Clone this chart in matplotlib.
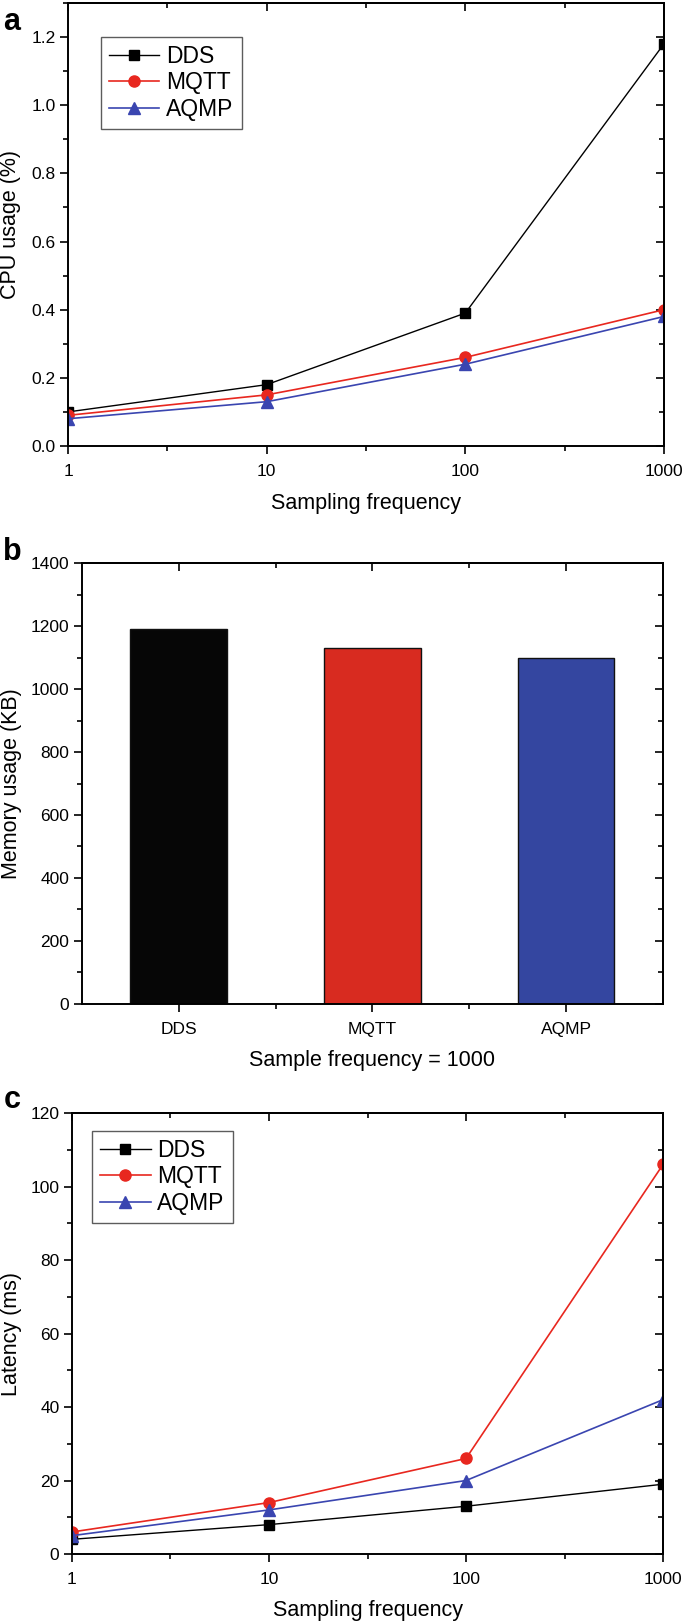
import matplotlib
matplotlib.use('Agg')
import matplotlib.pyplot as plt
from matplotlib.ticker import NullFormatter

plt.rcParams['font.family'] = ['Liberation Sans', 'DejaVu Sans']

# datos
freq = [1, 10, 100, 1000]
protocols = ['DDS', 'MQTT', 'AQMP']

cpu_dds = [0.10, 0.18, 0.39, 1.18]
cpu_mqtt = [0.09, 0.15, 0.26, 0.40]
cpu_aqmp = [0.08, 0.13, 0.24, 0.38]

memory = [1190, 1130, 1100]

lat_dds = [4, 8, 13, 19]
lat_mqtt = [6, 14, 26, 106]
lat_aqmp = [5, 12, 20, 42]

black = '#000000'
red = '#e8271f'
blue = '#3a45b0'
bar_colors = ['#060606', '#d82b20', '#3446a0']

fig = plt.figure(figsize=(6.85, 16.23), dpi=100)
ax_a = fig.add_axes([0.0993, 0.7252, 0.870, 0.2730])
ax_b = fig.add_axes([0.1197, 0.3814, 0.848, 0.2717])
ax_c = fig.add_axes([0.1051, 0.0425, 0.8628, 0.2717])

TICK = 12.5
LAB = 15.5


def style(ax, xmaj, xmin, ymaj, ymin):
    for s in ax.spines.values():
        s.set_linewidth(1.4)
    ax.set_xticks(xmaj)
    ax.set_xticks(xmin, minor=True)
    ax.set_yticks(ymaj)
    ax.set_yticks(ymin, minor=True)
    ax.xaxis.set_minor_formatter(NullFormatter())
    ax.tick_params(which='major', direction='out', length=6, width=1.2,
                   labelsize=TICK)
    ax.tick_params(which='minor', direction='out', length=3.5, width=1.2)
    ax.tick_params(axis='x', pad=7)
    ax.tick_params(axis='y', pad=3)
    # ticks espejo hacia dentro
    top = ax.secondary_xaxis('top')
    top.set_xticks(xmaj)
    top.set_xticks(xmin, minor=True)
    top.xaxis.set_major_formatter(NullFormatter())
    top.xaxis.set_minor_formatter(NullFormatter())
    top.tick_params(which='major', direction='in', length=6, width=1.2)
    top.tick_params(which='minor', direction='in', length=3.5, width=1.2)
    top.spines['top'].set_linewidth(1.4)
    right = ax.secondary_yaxis('right')
    right.set_yticks(ymaj)
    right.set_yticks(ymin, minor=True)
    right.yaxis.set_major_formatter(NullFormatter())
    right.yaxis.set_minor_formatter(NullFormatter())
    right.tick_params(which='major', direction='in', length=6, width=1.2)
    right.tick_params(which='minor', direction='in', length=3.5, width=1.2)
    right.spines['right'].set_linewidth(1.4)


def legend(ax, x, y):
    leg = ax.legend(loc='upper left', bbox_to_anchor=(x, y),
                    fontsize=16.5, frameon=True, fancybox=False,
                    edgecolor='#333333', handlelength=2.2, handletextpad=0.3,
                    labelspacing=0.15, borderpad=0.35, borderaxespad=0)
    leg.get_frame().set_linewidth(1.0)


logminor = [10 ** 0.5, 10 ** 1.5, 10 ** 2.5]

# (a) CPU
ax_a.set_xscale('log')
ax_a.plot(freq, cpu_dds, color=black, lw=1.0, marker='s', ms=7, label='DDS')
ax_a.plot(freq, cpu_mqtt, color=red, lw=1.2, marker='o', ms=8, label='MQTT')
ax_a.plot(freq, cpu_aqmp, color=blue, lw=1.2, marker='^', ms=8, label='AQMP')
ax_a.set_xlim(1, 1000)
ax_a.set_ylim(0, 1.3)
style(ax_a, freq, logminor, [0.0, 0.2, 0.4, 0.6, 0.8, 1.0, 1.2],
      [0.1, 0.3, 0.5, 0.7, 0.9, 1.1, 1.3])
ax_a.set_xticklabels(['1', '10', '100', '1000'])
ax_a.set_yticklabels(['0.0', '0.2', '0.4', '0.6', '0.8', '1.0', '1.2'])
ax_a.set_xlabel('Sampling frequency', fontsize=LAB)
ax_a.set_ylabel('CPU usage (%)', fontsize=LAB)
ax_a.xaxis.set_label_coords(0.5, -0.105)
ax_a.yaxis.set_label_coords(-0.079, 0.5)
legend(ax_a, 0.055, 0.923)

# (b) memoria
xb = list(range(len(protocols)))
ax_b.bar(xb, memory, width=0.5, color=bar_colors, edgecolor='#111111',
         linewidth=1.0)
ax_b.set_xlim(-0.5, 2.5)
ax_b.set_ylim(0, 1400)
style(ax_b, xb, [0.5, 1.5], list(range(0, 1401, 200)),
      list(range(100, 1400, 200)))
ax_b.set_xticklabels(protocols)
ax_b.set_xlabel('Sample frequency = 1000', fontsize=LAB)
ax_b.set_ylabel('Memory usage (KB)', fontsize=LAB)
ax_b.xaxis.set_label_coords(0.5, -0.105)
ax_b.yaxis.set_label_coords(-0.103, 0.5)

# (c) latencia
ax_c.set_xscale('log')
ax_c.plot(freq, lat_dds, color=black, lw=1.0, marker='s', ms=7, label='DDS')
ax_c.plot(freq, lat_mqtt, color=red, lw=1.2, marker='o', ms=8, label='MQTT')
ax_c.plot(freq, lat_aqmp, color=blue, lw=1.2, marker='^', ms=8, label='AQMP')
ax_c.set_xlim(1, 1000)
ax_c.set_ylim(0, 120)
style(ax_c, freq, logminor, list(range(0, 121, 20)),
      list(range(10, 120, 20)))
ax_c.set_xticklabels(['1', '10', '100', '1000'])
ax_c.set_xlabel('Sampling frequency', fontsize=LAB)
ax_c.set_ylabel('Latency (ms)', fontsize=LAB)
ax_c.xaxis.set_label_coords(0.5, -0.105)
ax_c.yaxis.set_label_coords(-0.085, 0.5)
legend(ax_c, 0.034, 0.96)

# letras de panel
fig.text(0.005, 1 - 30 / 1623, 'a', fontsize=22, fontweight='bold')
fig.text(0.005, 1 - 560 / 1623, 'b', fontsize=22, fontweight='bold')
fig.text(0.005, 1 - 1108 / 1623, 'c', fontsize=22, fontweight='bold')

fig.savefig('out.png', dpi=100)
